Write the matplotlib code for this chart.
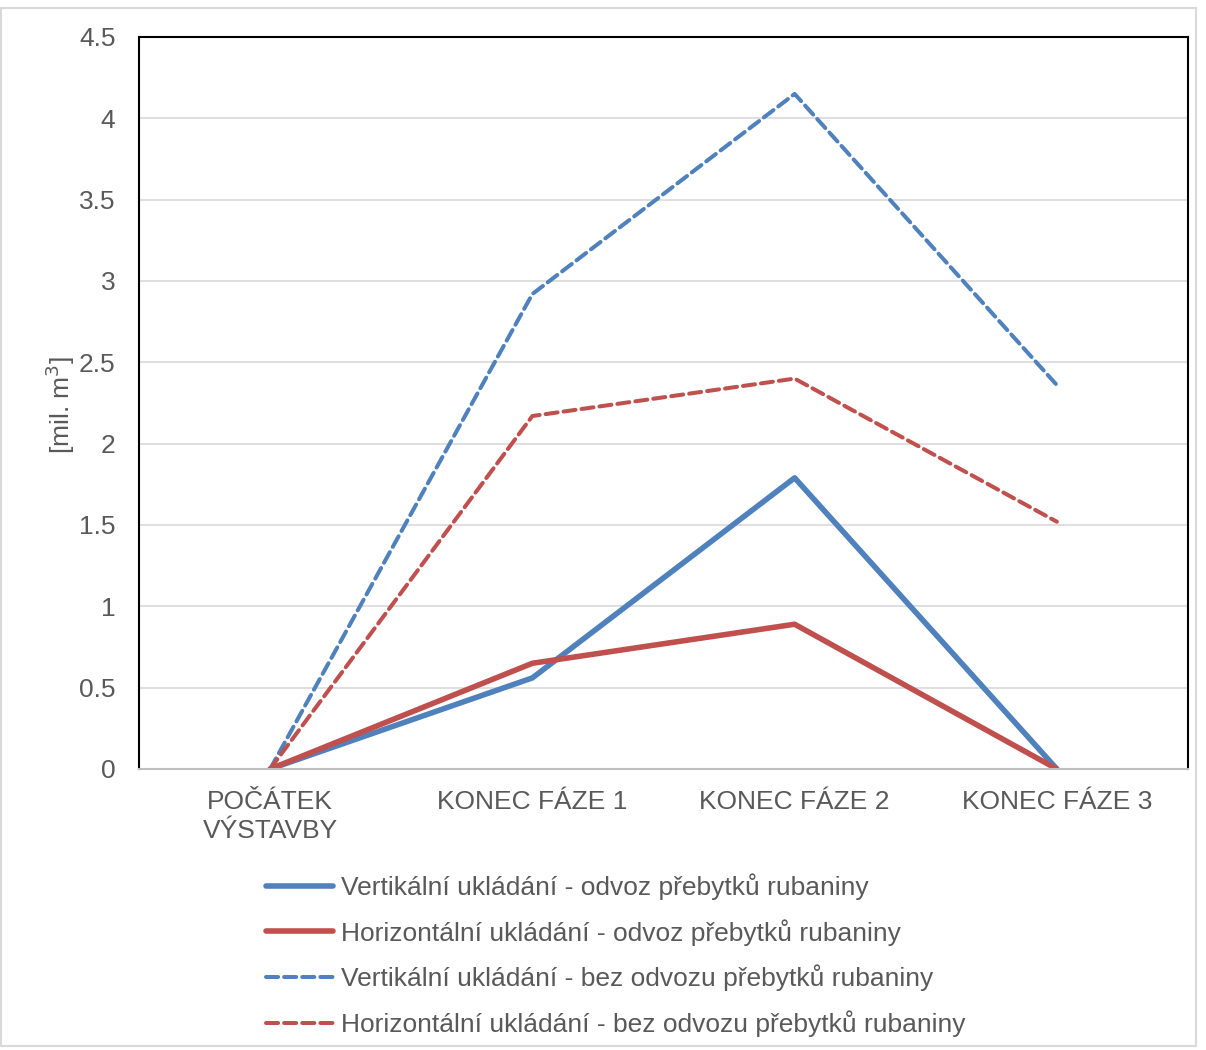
import matplotlib.pyplot as plt
from matplotlib.patches import Rectangle

plt.rcParams['font.family'] = ['Liberation Sans', 'DejaVu Sans']

categories = ["POČÁTEK\nVÝSTAVBY", "KONEC FÁZE 1", "KONEC FÁZE 2", "KONEC FÁZE 3"]
vert_odvoz = [0, 0.56, 1.79, 0]
horiz_odvoz = [0, 0.65, 0.89, 0]
vert_bez = [0, 2.92, 4.15, 2.36]
horiz_bez = [0, 2.17, 2.40, 1.52]
labels = [
    "Vertikální ukládání - odvoz přebytků rubaniny",
    "Horizontální ukládání - odvoz přebytků rubaniny",
    "Vertikální ukládání - bez odvozu přebytků rubaniny",
    "Horizontální ukládání - bez odvozu přebytků rubaniny",
]

blue = "#4f81bd"
red = "#c0504d"
grey_text = "#595959"
fs = 19

fig = plt.figure(figsize=(12.06, 10.5), dpi=100)
ax = fig.add_axes([139 / 1206, 1 - 769 / 1050, 1049 / 1206, 732 / 1050])

x = range(len(categories))
dash = (0, (3.0, 1.5))
ax.plot(x, vert_odvoz, color=blue, lw=4, solid_capstyle='round', label=labels[0])
ax.plot(x, horiz_odvoz, color=red, lw=4, solid_capstyle='round', label=labels[1])
ax.plot(x, vert_bez, color=blue, lw=2.9, ls=dash, dash_capstyle='round', label=labels[2])
ax.plot(x, horiz_bez, color=red, lw=2.9, ls=dash, dash_capstyle='round', label=labels[3])

ax.set_xlim(-0.5, 3.5)
ax.set_ylim(0, 4.5)
ax.set_yticks([0, 0.5, 1, 1.5, 2, 2.5, 3, 3.5, 4, 4.5])
ax.set_yticklabels(["0", "0.5", "1", "1.5", "2", "2.5", "3", "3.5", "4", "4.5"])
ax.set_xticks(list(x))
ax.set_xticklabels(categories, linespacing=1.25)
ax.tick_params(axis='both', length=0, labelsize=fs, colors=grey_text)
ax.tick_params(axis='y', pad=17)
ax.tick_params(axis='x', pad=15)
ax.grid(axis='y', color="#d9d9d9", lw=1.2)
ax.set_axisbelow(True)
for side in ['top', 'left', 'right']:
    ax.spines[side].set_color('black')
    ax.spines[side].set_linewidth(1.5)
ax.spines['bottom'].set_color('#bfbfbf')
ax.spines['bottom'].set_linewidth(1.5)

ax.set_ylabel("[mil. m$^3$]", fontsize=fs, color=grey_text)
ax.yaxis.set_label_coords(-62 / 1049, (769 - 405) / 732)

leg = fig.legend(loc='upper left', bbox_to_anchor=(253 / 1206, 1 - 860 / 1050),
                 frameon=False, fontsize=fs, handlelength=2.55, handletextpad=0.28,
                 labelspacing=0.72, labelcolor=grey_text, borderpad=0)

fig.patches.append(Rectangle((0.001, 0.004), 0.991, 0.988, transform=fig.transFigure,
                             fill=False, edgecolor="#d9d9d9", lw=1.5))

fig.savefig("out.png", dpi=100)
